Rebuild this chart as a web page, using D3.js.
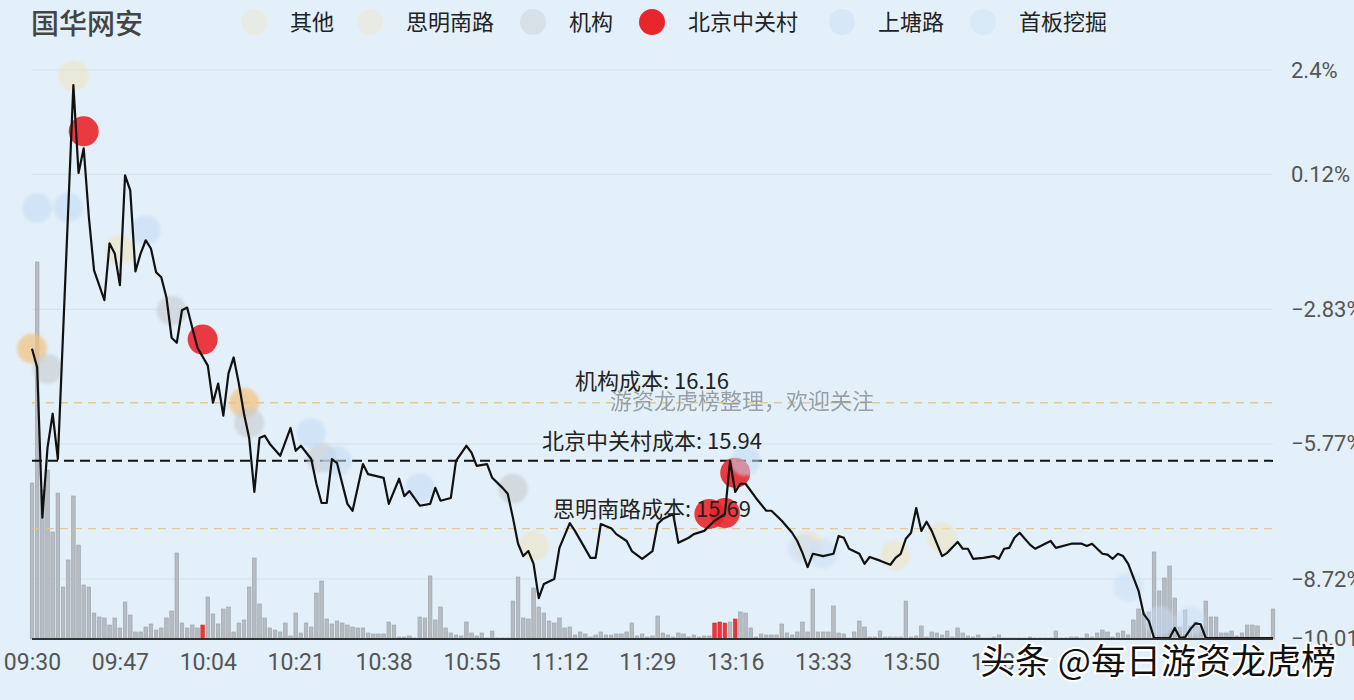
<!DOCTYPE html>
<html>
<head>
<meta charset="utf-8">
<script src="https://cdn.jsdelivr.net/npm/d3@7"></script>
<style>
  html, body { margin: 0; padding: 0; background: #e3f0f9; overflow: hidden; }
  svg { display: block; }
</style>
</head>
<body>
<div id="chart"></div>
<script>
var width = 1354;
var height = 700;

// 标题 & 图例
var title = "国华网安";
var seriesNames = ["其他", "思明南路", "机构", "北京中关村", "上塘路", "首板挖掘"];
var seriesColors = ["#efe3c2", "#f3c27e", "#c8cbcf", "#e8262b", "#c3dbf5", "#c9def6"];

// 时间轴标签 (显示的)
var timeLabels = ["09:30", "09:47", "10:04", "10:21", "10:38", "10:55", "11:12", "11:29",
                  "13:16", "13:33", "13:50", "14:07"];

// 右侧涨跌幅刻度
var pctTicks = [2.4, 0.12, -2.83, -5.77, -8.72, -10.01];
var pctTickLabels = ["2.4%", "0.12%", "−2.83%", "−5.77%", "−8.72%", "−10.01%"];

// 分时走势 [分钟序号, 涨跌幅%]
var priceLine = [
  [0, -3.69], [1, -4.10], [2, -7.38], [3, -5.85], [4, -5.11], [5, -6.10], [8, 2.07],
  [9, 0.15], [10, 0.69], [11, -0.82], [12, -1.98], [14, -2.63], [15, -1.39], [16, -1.61],
  [17, -2.30], [18, 0.10], [19, -0.23], [20, -2.00], [21, -1.61], [22, -1.32], [23, -1.50],
  [24, -2.02], [25, -2.13], [26, -2.57], [27, -3.45], [28, -3.56], [29, -2.85], [30, -2.79],
  [31, -3.23], [32, -3.67], [34, -4.06], [35, -4.87], [36, -4.45], [37, -5.15], [38, -4.23],
  [39, -3.88], [40, -4.45], [41, -5.11], [42, -5.64], [43, -6.82], [44, -5.64], [45, -5.59],
  [46, -5.77], [48, -6.03], [50, -5.42], [51, -5.92], [52, -5.81], [54, -6.10], [55, -6.64],
  [56, -7.06], [57, -7.06], [58, -6.10], [59, -6.19], [61, -7.08], [62, -7.23], [64, -6.21],
  [65, -6.43], [68, -6.51], [69, -7.08], [71, -6.53], [72, -6.91], [73, -6.80], [75, -7.12],
  [77, -7.08], [78, -6.73], [79, -7.01], [81, -6.95], [82, -6.14], [84, -5.81], [85, -5.96],
  [86, -6.25], [88, -6.21], [89, -6.51], [91, -6.73], [92, -6.86], [93, -7.38], [94, -7.95],
  [95, -8.22], [96, -8.11], [97, -8.39], [98, -9.14], [99, -8.83], [101, -8.72], [102, -8.04],
  [104, -7.50], [105, -7.67], [108, -8.26], [109, -8.26], [110, -7.52], [112, -7.61],
  [113, -7.74], [115, -7.89], [116, -8.11], [118, -8.28], [120, -8.11], [121, -7.52],
  [122, -7.41], [124, -7.30], [125, -7.93], [127, -7.82], [128, -7.74], [130, -7.67],
  [132, -7.45], [134, -7.30], [135, -6.14], [136, -6.82], [137, -6.64], [138, -6.64],
  [140, -6.95], [142, -7.23], [143, -7.23], [145, -7.45], [147, -7.71], [148, -7.89],
  [149, -8.15], [150, -8.46], [151, -8.17], [153, -8.22], [155, -8.17], [156, -7.78],
  [157, -7.82], [158, -8.06], [160, -8.17], [161, -8.39], [162, -8.24], [164, -8.32],
  [166, -8.41], [167, -8.26], [168, -8.17], [169, -7.84], [170, -7.71], [171, -7.17],
  [172, -7.67], [173, -7.47], [174, -7.67], [176, -8.22], [177, -8.15], [179, -7.91],
  [180, -8.06], [181, -8.06], [182, -8.28], [184, -8.26], [186, -8.22], [187, -8.28],
  [188, -8.06], [189, -8.04], [190, -7.82], [191, -7.71], [193, -7.97], [194, -8.06],
  [197, -7.89], [198, -8.04], [201, -7.95], [203, -7.95], [204, -8.00], [205, -7.95],
  [207, -8.17], [208, -8.19], [209, -8.28], [210, -8.17], [211, -8.22], [212, -8.39],
  [214, -8.98], [215, -9.49], [216, -9.64], [217, -10.01], [218, -10.01], [220, -10.01],
  [221, -9.79], [222, -10.01], [223, -9.99], [224, -9.82], [225, -9.69], [226, -9.71],
  [227, -10.01], [240, -10.01]
];

// 每分钟成交量
var volumes = [
  156, 377, 149, 169, 107, 146, 52, 79, 143, 94, 54, 52, 26, 22, 21, 14, 21, 11, 37, 24,
  7, 7, 12, 15, 9, 11, 21, 28, 86, 16, 11, 14, 11, 14, 42, 25, 15, 30, 32, 7,
  16, 19, 52, 81, 35, 21, 11, 9, 7, 16, 3, 26, 6, 16, 12, 46, 58, 20, 15, 18,
  16, 14, 12, 11, 11, 6, 5, 5, 5, 17, 14, 2, 2, 3, 1, 22, 21, 63, 19, 32,
  11, 6, 4, 3, 17, 6, 3, 6, 1, 8, 1, 1, 1, 38, 62, 21, 20, 51, 32, 26,
  18, 16, 21, 11, 12, 4, 7, 5, 2, 4, 7, 4, 4, 5, 5, 7, 16, 3, 5, 2,
  3, 23, 6, 4, 2, 6, 5, 2, 4, 2, 3, 3, 16, 17, 16, 17, 20, 27, 26, 11,
  2, 5, 4, 4, 4, 15, 6, 4, 7, 17, 7, 50, 7, 7, 7, 33, 6, 5, 1, 7,
  18, 12, 2, 2, 8, 2, 2, 2, 2, 38, 2, 3, 13, 2, 7, 6, 4, 8, 2, 11,
  6, 3, 2, 4, 1, 1, 2, 4, 1, 1, 1, 1, 1, 2, 1, 1, 1, 1, 8, 1,
  1, 2, 2, 1, 5, 2, 6, 9, 7, 2, 6, 8, 4, 19, 30, 26, 27, 87, 48, 61,
  73, 41, 12, 29, 13, 17, 12, 38, 22, 22, 6, 6, 8, 3, 6, 14, 14, 13, 1, 1,
  30
];
var redVolumeIdx = [33, 132, 133, 134, 136];

// 成本线
var costNames = ["机构成本", "北京中关村成本", "思明南路成本"];
var costPrices = ["16.16", "15.94", "15.69"];
var costLevels = [-4.87, -6.14, -7.62];

// 游资买卖点 [分钟序号, 涨跌幅%]
var dotsQita = [[8, 2.27], [17, -1.54], [97, -8.0], [150, -8.0], [167, -8.2], [176, -7.82]];
var dotsSiming = [[0, -3.69], [41, -4.87]];
var dotsJigou = [[3, -4.13], [27, -2.86], [42, -5.31], [56, -6.07], [93, -6.75]];
var dotsZgc = [[10, 1.06], [33, -3.49], [131, -7.30], [134, -7.28], [136, -6.40]];
var dotsShangtang = [[1, -0.62], [7, -0.60], [22, -1.10], [54, -5.53], [59, -6.14], [75, -6.73], [138, -6.14]];
var dotsShouban = [[149, -8.06], [153, -8.17], [212, -8.9], [218, -9.64], [224, -9.64]];
var allDots = [dotsQita, dotsSiming, dotsJigou, dotsZgc, dotsShangtang, dotsShouban];
var dotOpacity = [0.6, 0.7, 0.6, 0.9, 0.55, 0.5];

var cjk = "'Noto Sans CJK SC', 'Noto Sans', sans-serif";
var num = "Roboto, 'Noto Sans CJK SC', sans-serif";

var svg = d3.select("#chart").append("svg")
  .attr("width", width)
  .attr("height", height);

svg.append("rect").attr("width", width).attr("height", height).attr("fill", "#e3f0f9");

var defs = svg.append("defs");
defs.append("filter").attr("id", "soft")
  .attr("x", "-50%").attr("y", "-50%").attr("width", "200%").attr("height", "200%")
  .append("feGaussianBlur").attr("stdDeviation", 1.6);

var x = d3.scaleLinear().domain([0, 240]).range([32, 1273]);
var y = d3.scaleLinear().domain([-10.01, 2.4]).range([638, 70]);
var yVol = d3.scaleLinear().domain([0, 400]).range([639, 239]);

function toIdx(t) {
  var p = t.split(":");
  var m = +p[0] * 60 + +p[1];
  return m < 12 * 60 ? m - (9 * 60 + 30) : m - 13 * 60 + 120;
}

// 网格线
svg.append("g").selectAll("line")
  .data(pctTicks.slice(0, 5))
  .join("line")
  .attr("x1", x(0)).attr("x2", x(240))
  .attr("y1", function (d) { return y(d); })
  .attr("y2", function (d) { return y(d); })
  .attr("stroke", "#d3e2ec")
  .attr("stroke-width", 1);

// 右侧刻度
var yAxis = d3.axisRight(y).tickValues(pctTicks)
  .tickFormat(function (d, i) { return pctTickLabels[i]; })
  .tickSize(0).tickPadding(0);
var yAxisG = svg.append("g").attr("transform", "translate(1291,0)").call(yAxis);
yAxisG.select(".domain").remove();
yAxisG.selectAll("text")
  .attr("fill", "#555")
  .style("font-family", num)
  .style("font-size", "22px");

// 成交量柱
svg.append("g").selectAll("rect")
  .data(volumes)
  .join("rect")
  .attr("x", function (d, i) { return x(i) - 1.8; })
  .attr("width", 3.6)
  .attr("y", function (d) { return yVol(d); })
  .attr("height", function (d) { return yVol(0) - yVol(d); })
  .attr("fill", function (d, i) { return redVolumeIdx.indexOf(i) >= 0 ? "#e8373a" : "#b6bcc2"; })
  .attr("stroke", function (d, i) { return redVolumeIdx.indexOf(i) >= 0 ? "#d92a2e" : "#9aa1a8"; })
  .attr("stroke-width", 0.6);

// 成本线
var costG = svg.append("g");
costLevels.forEach(function (lv, i) {
  var black = i === 1;
  costG.append("line")
    .attr("x1", x(0)).attr("x2", x(240))
    .attr("y1", y(lv)).attr("y2", y(lv))
    .attr("stroke", black ? "#111" : "#e6c27f")
    .attr("stroke-width", black ? 2 : 1.4)
    .attr("stroke-dasharray", black ? "10,6" : "8,6")
    .attr("opacity", black ? 1 : 0.85);
});

// 买卖点
var dotG = svg.append("g");
allDots.forEach(function (pts, s) {
  dotG.append("g").selectAll("circle")
    .data(pts)
    .join("circle")
    .attr("cx", function (d) { return x(d[0]); })
    .attr("cy", function (d) { return y(d[1]); })
    .attr("r", 15)
    .attr("fill", seriesColors[s])
    .attr("opacity", dotOpacity[s])
    .attr("filter", s === 3 ? null : "url(#soft)");
});

// 分时线
var line = d3.line()
  .x(function (d) { return x(d[0]); })
  .y(function (d) { return y(d[1]); });
svg.append("path")
  .datum(priceLine)
  .attr("d", line)
  .attr("fill", "none")
  .attr("stroke", "#111")
  .attr("stroke-width", 2.2)
  .attr("stroke-linejoin", "round");

// 成本标注
costLevels.forEach(function (lv, i) {
  svg.append("text")
    .attr("x", 652)
    .attr("y", y(lv) - (i === 0 ? 14 : 12))
    .attr("text-anchor", "middle")
    .attr("fill", "#222")
    .style("font-family", cjk)
    .style("font-size", "22px")
    .text(costNames[i] + ": " + costPrices[i]);
});

// 水印
svg.append("text")
  .attr("x", 610).attr("y", 409)
  .attr("fill", "#8d9296")
  .attr("opacity", 0.85)
  .style("font-family", cjk)
  .style("font-size", "22px")
  .text("游资龙虎榜整理，欢迎关注");

// 底部轴线
svg.append("line")
  .attr("x1", x(0)).attr("x2", x(240))
  .attr("y1", 639).attr("y2", 639)
  .attr("stroke", "#333").attr("stroke-width", 2);

// 时间轴
var xAxis = d3.axisBottom(x)
  .tickValues(timeLabels.map(toIdx))
  .tickFormat(function (d, i) { return timeLabels[i]; })
  .tickSize(0).tickPadding(0);
var xAxisG = svg.append("g").attr("transform", "translate(0,650)").call(xAxis);
xAxisG.select(".domain").remove();
xAxisG.selectAll("text")
  .attr("dy", "0.85em")
  .attr("fill", "#555")
  .style("font-family", num)
  .style("font-size", "23px");

// 标题
svg.append("text")
  .attr("x", 31).attr("y", 34)
  .attr("fill", "#444")
  .style("font-family", cjk)
  .style("font-size", "28px")
  .style("font-weight", 500)
  .text(title);

// 图例
var legendX = [254, 370, 533, 652, 842, 983];
var legendG = svg.append("g");
seriesNames.forEach(function (n, i) {
  legendG.append("circle")
    .attr("cx", legendX[i]).attr("cy", 22).attr("r", 13)
    .attr("fill", i === 1 ? seriesColors[0] : seriesColors[i])
    .attr("opacity", i === 3 ? 1 : 0.4);
  legendG.append("text")
    .attr("x", legendX[i] + 36).attr("y", 30)
    .attr("fill", "#222")
    .style("font-family", cjk)
    .style("font-size", "22px")
    .text(n);
});

// 头条水印
svg.append("text")
  .attr("x", 980).attr("y", 674)
  .attr("fill", "#111")
  .attr("stroke", "#fff")
  .attr("stroke-width", 4)
  .attr("paint-order", "stroke")
  .style("font-family", cjk)
  .style("font-size", "35px")
  .text("头条 @每日游资龙虎榜");
</script>
</body>
</html>
